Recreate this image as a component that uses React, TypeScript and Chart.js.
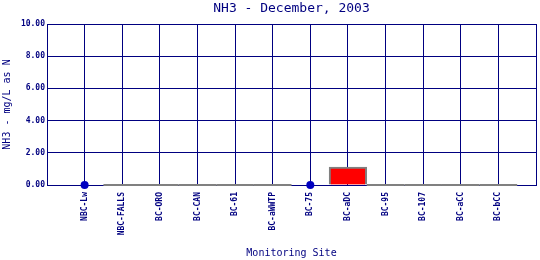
import React, { useEffect, useRef } from "react";
import { Chart, registerables } from "chart.js";

Chart.register(...registerables);

const sites: string[] = [
  "NBC-Lw", "NBC-FALLS", "BC-ORO", "BC-CAN", "BC-61", "BC-aWWTP",
  "BC-75", "BC-aDC", "BC-95", "BC-107", "BC-aCC", "BC-bCC",
];
// range bars (null = no bar)
const barValues: (number | null)[] = [null, 0, 0, 0, 0, 0, null, 1.12, 0, 0, 0, 0];
// single measurements (dots)
const pointValues: (number | null)[] = [0, null, null, null, null, null, 0, null, null, null, null, null];
const yTicks: number[] = [0, 2, 4, 6, 8, 10];

const NAVY = "#000080";
const FONT = "'DejaVu Sans Mono', 'Liberation Mono', monospace";

const zeroBarOutline = {
  id: "zeroBarOutline",
  afterDatasetsDraw(chart: any) {
    const meta = chart.getDatasetMeta(0);
    const ctx = chart.ctx;
    ctx.save();
    ctx.strokeStyle = "#808080";
    ctx.lineWidth = 2;
    meta.data.forEach((el: any, i: number) => {
      const v = chart.data.datasets[0].data[i];
      if (v === 0) {
        const p = el.getProps(["x", "y", "base", "width"], true);
        ctx.beginPath();
        ctx.moveTo(p.x - p.width / 2, p.base);
        ctx.lineTo(p.x + p.width / 2, p.base);
        ctx.stroke();
      }
    });
    ctx.restore();
  },
};

export default function App() {
  const ref = useRef<HTMLCanvasElement | null>(null);
  useEffect(() => {
    document.body.style.margin = "0";
    if (!ref.current) return;
    const labels = ["", ...sites, ""];
    const chart = new Chart(ref.current, {
      type: "bar",
      data: {
        labels,
        datasets: [
          {
            type: "bar",
            data: [null, ...barValues, null],
            backgroundColor: "#ff0000",
            borderColor: "#808080",
            borderWidth: 2,
            barPercentage: 1,
            categoryPercentage: 1,
            order: 2,
          } as any,
          {
            type: "line",
            data: [null, ...pointValues, null],
            showLine: false,
            clip: false,
            pointRadius: 4,
            pointHoverRadius: 4,
            pointBackgroundColor: "#0000c0",
            pointBorderColor: "#0000c0",
            pointBorderWidth: 0,
            order: 1,
          } as any,
        ],
      },
      options: {
        responsive: false,
        animation: false,
        layout: { padding: { left: 0, right: 4, top: 0, bottom: 0 } },
        plugins: {
          legend: { display: false },
          tooltip: { enabled: false },
          title: {
            display: true,
            text: "NH3 - December, 2003",
            color: NAVY,
            fullSize: false,
            font: { family: FONT, size: 13, weight: "normal" },
            padding: { top: 1, bottom: 7.4 },
          },
        },
        scales: {
          x: {
            type: "category",
            offset: false,
            grid: { color: NAVY, lineWidth: 1, drawTicks: false, offset: false },
            border: { color: NAVY, width: 1 },
            ticks: {
              color: NAVY,
              autoSkip: false,
              maxRotation: 90,
              minRotation: 90,
              padding: 7,
              font: { family: FONT, size: 8, weight: "bold" },
            },
            title: {
              display: true,
              text: "Monitoring Site",
              color: NAVY,
              font: { family: FONT, size: 10 },
              padding: { top: 0, bottom: 1 },
            },
            afterFit: (s: any) => {
              s.height = 75;
              s.paddingLeft = 0;
              s.paddingRight = 0;
            },
          },
          y: {
            min: 0,
            max: 10,
            grid: { color: NAVY, lineWidth: 1, drawTicks: false },
            border: { color: NAVY, width: 1 },
            afterBuildTicks: (s: any) => { s.ticks = yTicks.map((v) => ({ value: v })); },
            ticks: {
              color: NAVY,
              padding: 2,
              font: { family: FONT, size: 8, weight: "bold" },
              callback: (v: any) => Number(v).toFixed(2),
            },
            title: {
              display: true,
              text: "NH3 - mg/L as N",
              color: NAVY,
              font: { family: FONT, size: 10 },
              padding: { top: 1.5, bottom: 0 },
            },
            afterFit: (s: any) => {
              s.width = 47;
              s.paddingTop = 0;
              s.paddingBottom = 0;
            },
          },
        },
      },
      plugins: [zeroBarOutline],
    });
    return () => chart.destroy();
  }, []);
  return <canvas ref={ref} width={540} height={260} style={{ display: "block" }} />;
}
